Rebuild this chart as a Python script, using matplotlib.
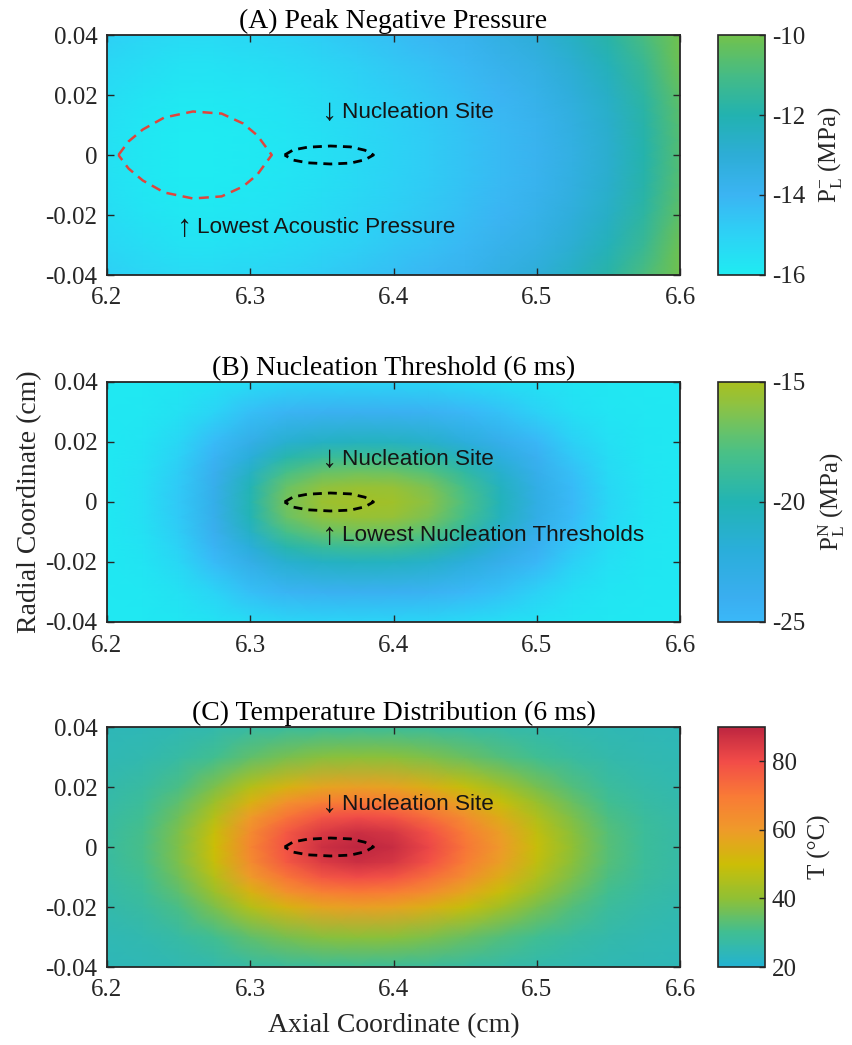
import numpy as np
import matplotlib
matplotlib.use('Agg')
import matplotlib.pyplot as plt
from matplotlib.colors import LinearSegmentedColormap, Normalize
from matplotlib.cm import ScalarMappable

plt.rcParams['font.family'] = ['Liberation Serif', 'DejaVu Serif']
plt.rcParams['mathtext.fontset'] = 'custom'
plt.rcParams['mathtext.rm'] = 'Liberation Serif'
plt.rcParams['mathtext.it'] = 'Liberation Serif:italic'

# ---------------- data ----------------
axial = [6.2, 6.225, 6.25, 6.275, 6.3, 6.325, 6.35, 6.375, 6.4,
         6.425, 6.45, 6.475, 6.5, 6.525, 6.55, 6.575, 6.6]
radial = [0.0, 0.005, 0.01, 0.015, 0.02, 0.03, 0.04]

# rows: axial positions, columns: radial positions (symmetric about r = 0)
peak_negative_pressure = [
    [-15.60, -15.59, -15.56, -15.50, -15.43, -15.21, -14.90],
    [-15.85, -15.84, -15.81, -15.75, -15.68, -15.46, -15.15],
    [-16.00, -15.99, -15.96, -15.90, -15.83, -15.61, -15.30],
    [-16.00, -15.99, -15.96, -15.90, -15.83, -15.61, -15.30],
    [-15.90, -15.89, -15.86, -15.80, -15.73, -15.51, -15.20],
    [-15.75, -15.74, -15.71, -15.65, -15.58, -15.36, -15.05],
    [-15.55, -15.54, -15.51, -15.45, -15.38, -15.16, -14.85],
    [-15.30, -15.29, -15.26, -15.20, -15.13, -14.91, -14.60],
    [-15.05, -15.04, -15.01, -14.95, -14.88, -14.66, -14.35],
    [-14.80, -14.79, -14.76, -14.70, -14.63, -14.41, -14.10],
    [-14.50, -14.49, -14.46, -14.40, -14.33, -14.11, -13.80],
    [-14.20, -14.19, -14.15, -14.09, -14.00, -13.75, -13.40],
    [-13.85, -13.84, -13.80, -13.74, -13.65, -13.40, -13.05],
    [-13.40, -13.39, -13.34, -13.27, -13.18, -12.89, -12.50],
    [-12.80, -12.78, -12.74, -12.66, -12.55, -12.24, -11.80],
    [-11.90, -11.88, -11.84, -11.76, -11.65, -11.34, -10.90],
    [-10.70, -10.68, -10.64, -10.56, -10.45, -10.14, -9.70],
]

nucleation_threshold = [
    [-27.00, -27.00, -27.00, -27.00, -27.00, -27.00, -27.00],
    [-26.60, -26.62, -26.66, -26.72, -26.80, -26.92, -26.98],
    [-25.60, -25.65, -25.80, -26.00, -26.25, -26.65, -26.90],
    [-23.40, -23.55, -23.95, -24.50, -25.10, -26.10, -26.70],
    [-19.90, -20.15, -20.90, -22.00, -23.20, -25.25, -26.40],
    [-16.60, -17.00, -18.10, -19.70, -21.50, -24.55, -26.20],
    [-15.50, -15.90, -17.10, -18.85, -20.85, -24.25, -26.10],
    [-15.20, -15.60, -16.80, -18.60, -20.60, -24.15, -26.08],
    [-15.30, -15.70, -16.90, -18.70, -20.70, -24.20, -26.10],
    [-16.10, -16.50, -17.60, -19.30, -21.15, -24.40, -26.15],
    [-17.90, -18.25, -19.25, -20.65, -22.20, -24.85, -26.30],
    [-20.30, -20.55, -21.30, -22.35, -23.50, -25.40, -26.50],
    [-22.90, -23.05, -23.50, -24.15, -24.85, -26.00, -26.70],
    [-25.00, -25.08, -25.30, -25.60, -25.95, -26.55, -26.85],
    [-26.25, -26.28, -26.36, -26.48, -26.60, -26.82, -26.95],
    [-26.80, -26.81, -26.83, -26.86, -26.89, -26.95, -26.98],
    [-27.00, -27.00, -27.00, -27.00, -27.00, -27.00, -27.00],
]

temperature = [
    [28.0, 27.8, 27.4, 26.8, 26.1, 24.9, 24.3],
    [31.0, 30.7, 30.0, 28.9, 27.7, 25.7, 24.5],
    [38.0, 37.5, 35.9, 33.8, 31.4, 27.3, 25.1],
    [50.0, 49.0, 46.2, 42.1, 37.7, 30.2, 26.0],
    [66.0, 64.4, 59.8, 53.3, 46.1, 34.0, 27.2],
    [79.0, 76.9, 70.9, 62.4, 53.0, 37.0, 28.2],
    [87.0, 84.5, 77.7, 68.0, 57.2, 38.9, 28.9],
    [90.0, 87.4, 80.2, 70.1, 58.8, 39.6, 29.1],
    [88.0, 85.5, 78.5, 68.7, 57.7, 39.2, 28.9],
    [81.0, 78.8, 72.6, 63.8, 54.0, 37.5, 28.4],
    [71.0, 69.2, 64.0, 56.8, 48.8, 35.1, 27.6],
    [60.0, 58.6, 54.7, 49.1, 43.0, 32.5, 26.8],
    [49.0, 48.0, 45.3, 41.5, 37.2, 29.9, 25.9],
    [40.0, 39.4, 37.6, 35.2, 32.4, 27.8, 25.2],
    [33.0, 32.6, 31.7, 30.3, 28.7, 26.1, 24.7],
    [29.0, 28.8, 28.3, 27.5, 26.6, 25.2, 24.4],
    [27.0, 26.9, 26.6, 26.1, 25.6, 24.7, 24.2],
]

# outlines (axial position, radial half-width)
lowest_pressure_x = [6.208, 6.215, 6.225, 6.24, 6.26, 6.28, 6.295, 6.305, 6.315]
lowest_pressure_r = [0.0, 0.0045, 0.0085, 0.0125, 0.0145, 0.0138, 0.0105, 0.0065, 0.0]
nucleation_x = [6.324, 6.33, 6.34, 6.356, 6.37, 6.38, 6.386]
nucleation_r = [0.0, 0.0017, 0.0026, 0.003, 0.0027, 0.0016, 0.0]

titles = ['(A) Peak Negative Pressure', '(B) Nucleation Threshold (6 ms)',
          '(C) Temperature Distribution (6 ms)']
x_ticks = [6.2, 6.3, 6.4, 6.5, 6.6]
x_ticklabels = ['6.2', '6.3', '6.4', '6.5', '6.6']
y_ticks = [-0.04, -0.02, 0.0, 0.02, 0.04]
y_ticklabels = ['-0.04', '-0.02', '0', '0.02', '0.04']

cb_labels = [r'$\mathrm{P_L^{-}}$ (MPa)', r'$\mathrm{P_L^{N}}$ (MPa)', 'T (°C)']
cb_ranges = [(-16, -10), (-25, -15), (20, 90)]
img_ranges = [(-16, -10), (-27, -15), (20, 90)]
cb_ticks = [[-16, -14, -12, -10], [-25, -20, -15], [20, 40, 60, 80]]
cb_ticklabels = [['-16', '-14', '-12', '-10'], ['-25', '-20', '-15'],
                 ['20', '40', '60', '80']]

anchors = [
    ([-16, -15, -14, -13, -12, -11, -10],
     ['#1FEBF2', '#2DD2F5', '#3BB4F3', '#2DADD6', '#22B2B0', '#45BB85', '#72C24C']),
    ([-27, -26, -25, -24, -22, -20, -18, -17, -16, -15],
     ['#20E8F2', '#2CD2F6', '#3AB8F8', '#3AAEF0', '#2AAEDA', '#22B4B4', '#48C088',
      '#68C268', '#8CC244', '#A8C020']),
    ([20, 30, 40, 50, 60, 70, 80, 90],
     ['#22B2D2', '#40BE92', '#90C034', '#CCBE06', '#EF9A2A', '#F97A36', '#F24C48',
      '#BE2640']),
]


def make_cmap(vals, cols, lo, hi):
    vals = np.array(vals, float)
    rgb = np.array([matplotlib.colors.to_rgb(c) for c in cols])
    grid = np.linspace(lo, hi, 256)
    out = np.column_stack([np.interp(grid, vals, rgb[:, k]) for k in range(3)])
    return LinearSegmentedColormap.from_list('c', out)


r_full = np.concatenate([-np.array(radial)[:0:-1], np.array(radial)])
X, Y = np.meshgrid(np.array(axial), r_full)


def mirror(table):
    t = np.array(table, float).T
    return np.vstack([t[:0:-1], t])


fields = [peak_negative_pressure, nucleation_threshold, temperature]

W, H = 853, 1045
fig = plt.figure(figsize=(W / 100, H / 100), dpi=100)
tops = [35, 382, 727]
ax_h = 240
left, right = 107, 680
cb_left, cb_right = 718, 765
axis_col = '#262626'

sans = ['Liberation Sans', 'DejaVu Sans']


def label_with_arrow(ax, x, y, arrow, text):
    ax.text(x, y, arrow, fontsize=22, family=sans, color='#151515',
            ha='left', va='center')
    ax.annotate(text, xy=(x, y), xytext=(14.5, 0), textcoords='offset points',
                fontsize=16.2, family=sans, color='#151515', ha='left', va='center')


for i in range(3):
    top = tops[i]
    ax = fig.add_axes([left / W, 1 - (top + ax_h) / H, (right - left) / W, ax_h / H])
    lo, hi = img_ranges[i]
    cmap = make_cmap(anchors[i][0], anchors[i][1], lo, hi)
    ax.pcolormesh(X, Y, mirror(fields[i]), shading='gouraud', cmap=cmap,
                  norm=Normalize(lo, hi), rasterized=True)
    ax.set_xlim(6.2, 6.6)
    ax.set_ylim(-0.04, 0.04)
    ax.set_xticks(x_ticks)
    ax.set_xticklabels(x_ticklabels)
    ax.set_yticks(y_ticks)
    ax.set_yticklabels(y_ticklabels)
    ax.tick_params(direction='in', length=5, width=1, labelsize=18, colors=axis_col,
                   top=True, right=True)
    ax.tick_params(axis='x', pad=9)
    ax.tick_params(axis='y', pad=7)
    for s in ax.spines.values():
        s.set_linewidth(1.3)
        s.set_color(axis_col)
    ax.set_title(titles[i], fontsize=20, pad=5, color='black')

    # outlines
    nx = np.array(nucleation_x)
    nr = np.array(nucleation_r)
    ax.plot(np.concatenate([nx, nx[::-1]]), np.concatenate([nr, -nr[::-1]]),
            color='black', lw=2.0, linestyle=(0, (3.2, 2.2)))
    label_with_arrow(ax, 6.350, 0.0142, '↓', 'Nucleation Site')
    if i == 0:
        px = np.array(lowest_pressure_x)
        pr = np.array(lowest_pressure_r)
        ax.plot(np.concatenate([px, px[::-1]]), np.concatenate([pr, -pr[::-1]]),
                color='#E0453C', lw=1.8, linestyle=(0, (4, 2.6)))
        label_with_arrow(ax, 6.249, -0.0242, '↑', 'Lowest Acoustic Pressure')
    if i == 1:
        label_with_arrow(ax, 6.350, -0.0112, '↑', 'Lowest Nucleation Thresholds')
        ax.set_ylabel('Radial Coordinate (cm)', fontsize=20, color=axis_col, labelpad=2)
    if i == 2:
        ax.set_xlabel('Axial Coordinate (cm)', fontsize=20, color=axis_col, labelpad=8)

    # colorbar
    clo, chi = cb_ranges[i]
    cax = fig.add_axes([cb_left / W, 1 - (top + ax_h) / H, (cb_right - cb_left) / W, ax_h / H])
    cb = fig.colorbar(ScalarMappable(norm=Normalize(clo, chi),
                                     cmap=make_cmap(anchors[i][0], anchors[i][1], clo, chi)),
                      cax=cax)
    cb.set_ticks(cb_ticks[i])
    cb.set_ticklabels(cb_ticklabels[i])
    cb.ax.tick_params(direction='in', length=4, width=1, labelsize=18, colors=axis_col, pad=5)
    cb.outline.set_linewidth(1.2)
    cb.outline.set_edgecolor(axis_col)
    cb.set_label(cb_labels[i], fontsize=18, color=axis_col, labelpad=8)

fig.savefig('out.png', dpi=100)
